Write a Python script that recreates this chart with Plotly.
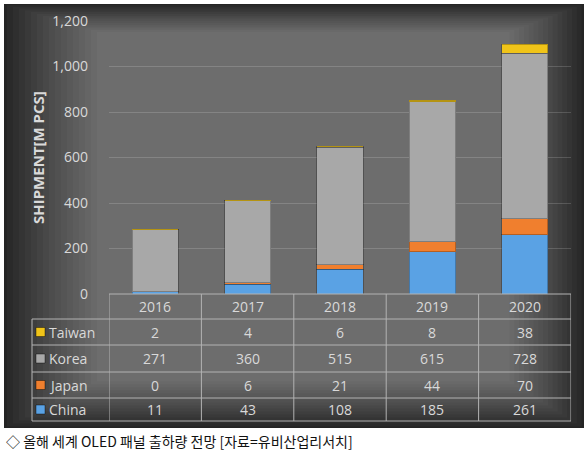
import plotly.graph_objects as go

years = ['2016', '2017', '2018', '2019', '2020']
china = [11, 43, 108, 185, 261]
japan = [0, 6, 21, 44, 70]
korea = [271, 360, 515, 615, 728]
taiwan = [2, 4, 6, 8, 38]

series = [('China', china, '#5aa2e4'),
          ('Japan', japan, '#f07f2e'),
          ('Korea', korea, '#a8a8a8'),
          ('Taiwan', taiwan, '#f0c419')]

W, H = 588, 452
L, R, T, B = 109, 571, 21, 294  # plot area in pixels


def px2x(px):
    return (px - L) / (R - L)


def py2y(py):
    return (B - py) / (B - T)


fig = go.Figure()
for name, vals, col in series:
    fig.add_trace(go.Bar(
        x=years, y=vals, name=name,
        marker=dict(color=col, line=dict(color='rgba(0,0,0,0.25)', width=1)),
        width=0.5
    ))

shapes = []
# dark background with a soft vignette
shapes.append(dict(type='rect', xref='paper', yref='paper', layer='below',
                   x0=px2x(4), x1=px2x(584), y0=py2y(428), y1=py2y(4),
                   fillcolor='#242424', line=dict(width=0)))
for k in range(16):
    inset = 3 + k * 6
    shapes.append(dict(type='rect', xref='paper', yref='paper', layer='below',
                       x0=px2x(4 + inset), x1=px2x(584 - inset * 0.8),
                       y0=py2y(428 - inset * 0.5), y1=py2y(4 + inset * 0.3),
                       fillcolor='rgba(255,255,255,0.026)', line=dict(width=0)))

# table grid
line_col = '#b3b3b3'
row_lines = [294, 319, 345, 372, 398, 421]
for i, py in enumerate(row_lines):
    x0 = L if i == 0 else 32
    shapes.append(dict(type='line', xref='paper', yref='paper',
                       x0=px2x(x0), x1=px2x(R), y0=py2y(py), y1=py2y(py),
                       line=dict(color=line_col, width=1)))
for j in range(len(years) + 1):
    shapes.append(dict(type='line', xref='x', yref='paper',
                       x0=j - 0.5, x1=j - 0.5, y0=py2y(294), y1=py2y(421),
                       line=dict(color=line_col, width=1)))
shapes.append(dict(type='line', xref='paper', yref='paper',
                   x0=px2x(32), x1=px2x(32), y0=py2y(319), y1=py2y(421),
                   line=dict(color=line_col, width=1)))

fam = 'Open Sans, Noto Sans, sans-serif'
txt = dict(color='#d9d9d9', size=14, family=fam)
annotations = []
for i, yr in enumerate(years):
    annotations.append(dict(x=i, y=py2y(306.5), xref='x', yref='paper', text=yr,
                            xanchor='center', yanchor='middle', showarrow=False, font=txt))

table_rows = list(reversed(series))  # Taiwan on top
for r, (name, vals, col) in enumerate(table_rows):
    cy = (row_lines[r + 1] + row_lines[r + 2]) / 2
    shapes.append(dict(type='rect', xref='paper', yref='paper',
                       x0=px2x(36), x1=px2x(45), y0=py2y(cy - 4.5), y1=py2y(cy + 4.5),
                       fillcolor=col, line=dict(color='rgba(0,0,0,0.4)', width=1)))
    annotations.append(dict(x=px2x(47), y=py2y(cy), xref='paper', yref='paper',
                            text=name, xanchor='left', yanchor='middle',
                            showarrow=False, font=txt))
    for i, v in enumerate(vals):
        annotations.append(dict(x=i, y=py2y(cy), xref='x', yref='paper', text=str(v),
                                xanchor='center', yanchor='middle',
                                showarrow=False, font=txt))

annotations.append(dict(x=px2x(38), y=py2y(158), xref='paper', yref='paper',
                        text='<b>SHIPMENT[M PCS]</b>', textangle=-90, showarrow=False,
                        xanchor='center', yanchor='middle',
                        font=dict(color='#d9d9d9', size=15, family=fam)))
annotations.append(dict(x=px2x(4), y=py2y(441), xref='paper', yref='paper',
                        text='◇ 올해 세계 OLED 패널 출하량 전망 [자료=유비산업리서치]',
                        xanchor='left', yanchor='middle', showarrow=False,
                        font=dict(color='#111111', size=14, family='Noto Sans CJK KR')))

fig.update_layout(
    barmode='stack',
    width=W, height=H,
    margin=dict(l=L, r=W - R, t=T, b=H - B, pad=0),
    paper_bgcolor='white',
    plot_bgcolor='rgba(0,0,0,0)',
    showlegend=False,
    shapes=shapes,
    annotations=annotations,
)
fig.update_xaxes(showticklabels=False, showgrid=False, zeroline=False, range=[-0.5, 4.5])
fig.update_yaxes(range=[0, 1200], dtick=200, tickformat=',', showgrid=True,
                 gridcolor='rgba(255,255,255,0.16)', gridwidth=1, zeroline=False,
                 tickfont=txt, ticks='', ticklabelstandoff=20)

fig.write_html("out.html", config={'displayModeBar': False},
               post_script="document.body.style.margin='0';")
